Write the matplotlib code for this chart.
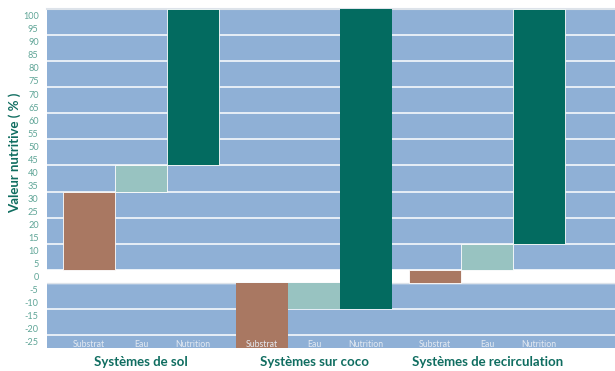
import numpy as np
import matplotlib.pyplot as plt

plt.rcParams['font.family'] = ['Lato', 'DejaVu Sans']

groups = ["Systèmes de sol", "Systèmes sur coco", "Systèmes de recirculation"]
components = ["Substrat", "Eau", "Nutrition"]
colors = ["#a97862", "#98c3c1", "#036b60"]

# floating bars: start and end level of each component, per system
bar_start = [[0, 30, 40],
             [-5, -5, -15],
             [-5, 0, 10]]
bar_end = [[30, 40, 100],
           [-30, -15, 100],
           [0, 10, 100]]

tick_values = list(range(100, -30, -5))
label_shift = 2.6          # printed scale sits slightly above the drawing levels
grid_upper = list(range(0, 100, 10))
grid_lower = [-15, -25]

blue = "#8fb0d6"
teal_text = "#0f6d60"
edge_widths = [0.6, 0.0, 0.6]

fig = plt.figure(figsize=(6.15, 3.71), dpi=100)
ax = fig.add_axes([47/615, 23/371, 568/615, 339/371])
ax.set_facecolor(blue)

group_gap = 3.33
ax.set_xlim(-0.81, 10.12)
ax.set_ylim(-30, 100)

# white gap between the positive and negative parts
ax.axhspan(-5, 0, color="white", zorder=1)
for g in grid_upper + grid_lower:
    ax.axhline(g, color="white", lw=1.1, zorder=1)
ax.axhline(-5, color="#dde3ea", lw=0.9, zorder=1)
ax.axhline(100, color="#dde3ea", lw=1.5, zorder=1, clip_on=False)

for gi, grp in enumerate(groups):
    for ci, comp in enumerate(components):
        x = gi * group_gap + ci
        lo, hi = bar_start[gi][ci], bar_end[gi][ci]
        ax.bar(x, hi - lo, bottom=lo, width=1.0, color=colors[ci],
               edgecolor="white", linewidth=edge_widths[gi], zorder=2)
        ax.text(x, -28.8, comp, ha="center", va="center", fontsize=6.3,
                color="#e4eaf2", zorder=3)
    ax.text(gi * group_gap + 1, -35.5, grp, ha="center", va="center",
            fontsize=9.5, fontweight="bold", color=teal_text, clip_on=False)

ax.set_yticks([v - label_shift for v in tick_values])
ax.set_yticklabels([str(v) for v in tick_values], fontsize=6.6, color="#5fa597")
ax.tick_params(axis="y", length=0, pad=6)
ax.set_xticks([])
for s in ax.spines.values():
    s.set_visible(False)

fig.text(15/615, 1 - 153/371, "Valeur nutritive ( % )", rotation=90,
         ha="center", va="center", fontsize=9.5, fontweight="bold", color=teal_text)

fig.savefig("out.png", dpi=100)
